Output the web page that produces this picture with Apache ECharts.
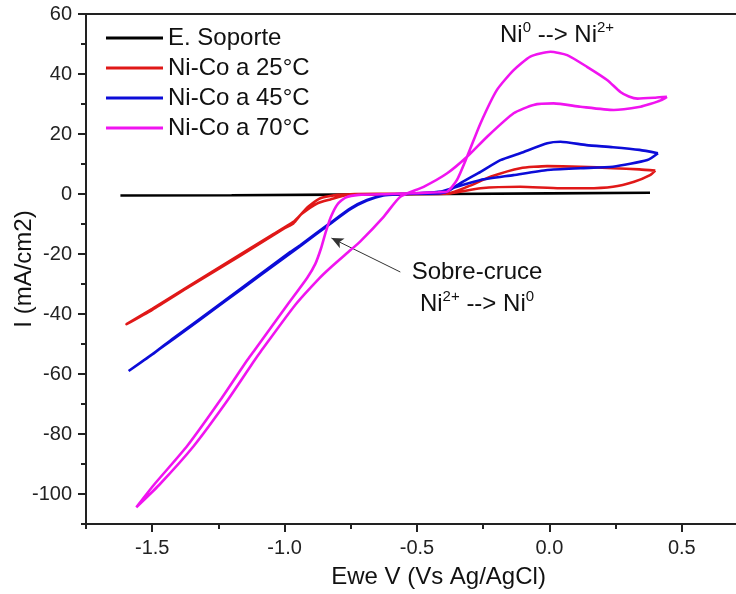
<!DOCTYPE html>
<html>
<head>
<meta charset="utf-8">
<script src="https://cdn.jsdelivr.net/npm/echarts/dist/echarts.min.js"></script>
<style>
html,body{margin:0;padding:0;background:#fff;}
#chart{width:736px;height:594px;}
</style>
</head>
<body>
<div id="chart"></div>
<script>
// ---- data (potential V vs Ag/AgCl, current mA/cm2) ----
const seriesNames = ['E. Soporte', 'Ni-Co a 25°C', 'Ni-Co a 45°C', 'Ni-Co a 70°C'];

const soporte = [[-1.62,-0.5],[-1.2,-0.4],[-0.8,-0.2],[-0.4,0.0],[0.0,0.2],[0.38,0.4]];

const nico25 = [
[0.40,7.8],[0.38,6.3],[0.32,4.1],[0.24,2.4],[0.14,1.9],[0.04,1.9],[-0.11,2.4],[-0.26,1.9],[-0.374,0.2],[-0.5,0.0],[-0.65,-0.1],[-0.763,-0.3],[-0.827,-1.8],[-0.876,-3.1],[-0.935,-6.6],[-0.967,-9.3],[-1.05,-13.8],[-1.17,-20.3],[-1.36,-30.6],[-1.5,-38.3],[-1.597,-43.4],
[-1.5,-38.6],[-1.36,-30.9],[-1.17,-20.7],[-1.0,-11.4],[-0.967,-9.8],[-0.94,-7.0],[-0.91,-4.2],[-0.865,-1.4],[-0.80,-0.3],[-0.65,0.1],[-0.5,0.1],[-0.385,0.2],[-0.31,2.4],[-0.22,5.8],[-0.11,8.6],[-0.008,9.3],[0.117,9.1],[0.24,8.6],[0.34,8.2],[0.40,7.8]];

const nico45 = [
[0.41,13.6],[0.37,11.3],[0.24,9.1],[0.117,8.6],[-0.008,8.0],[-0.136,6.3],[-0.26,4.7],[-0.35,2.4],[-0.41,0.8],[-0.5,0.2],[-0.56,-0.1],[-0.627,-0.5],[-0.689,-2.2],[-0.75,-5.0],[-0.827,-9.9],[-0.94,-17.3],[-1.09,-27.0],[-1.23,-36.1],[-1.419,-48.3],[-1.589,-59.0],
[-1.5,-53.5],[-1.419,-48.0],[-1.23,-35.8],[-1.09,-26.6],[-0.978,-19.3],[-0.94,-17.0],[-0.827,-9.6],[-0.75,-4.7],[-0.689,-2.0],[-0.627,-0.4],[-0.56,0.0],[-0.48,0.1],[-0.41,0.3],[-0.385,0.8],[-0.336,3.6],[-0.26,7.4],[-0.185,11.3],[-0.11,13.6],[-0.008,16.9],[0.042,17.4],[0.14,16.3],[0.24,15.6],[0.34,14.7],[0.41,13.6]];

const nico70 = [
[0.444,32.4],[0.42,31.2],[0.38,30.0],[0.344,29.1],[0.243,28.0],[0.117,29.1],[0.016,30.2],[-0.06,29.7],[-0.135,26.9],[-0.235,19.1],[-0.311,12.4],[-0.386,6.9],[-0.475,2.4],[-0.563,-0.9],[-0.626,-7.6],[-0.714,-15.8],[-0.751,-18.7],[-0.826,-24.5],[-0.87,-28.2],[-0.96,-37.0],[-1.09,-52.5],[-1.114,-55.5],[-1.214,-68.6],[-1.343,-84.0],[-1.474,-97.0],[-1.56,-104.4],
[-1.494,-97.0],[-1.368,-84.0],[-1.242,-68.6],[-1.142,-55.5],[-1.117,-52.5],[-0.99,-37.0],[-0.915,-28.0],[-0.884,-23.3],[-0.862,-18.0],[-0.845,-12.8],[-0.825,-7.6],[-0.80,-3.4],[-0.77,-1.2],[-0.72,-0.3],[-0.6,0.0],[-0.5,0.3],[-0.42,0.6],[-0.386,0.8],[-0.349,4.7],[-0.311,12.4],[-0.26,23.6],[-0.198,34.7],[-0.135,41.3],[-0.072,45.8],[0.004,47.4],[0.067,46.3],[0.142,42.4],[0.218,38.0],[0.268,34.0],[0.30,32.5],[0.333,31.8],[0.40,32.1],[0.444,32.4]];

// ticks
const xMajorTicks = [-1.5, -1.0, -0.5, 0.0, 0.5];
const xMinorTicks = [-1.75, -1.25, -0.75, -0.25, 0.25, 0.75];
const yMajorTicks = [-100, -80, -60, -40, -20, 0, 20, 40, 60];
const yMinorTicks = [-110, -90, -70, -50, -30, -10, 10, 30, 50];

// annotation arrow (data coords: tail, head)
const arrowTail = [-0.563, -26];
const arrowHead = [-0.823, -14.7];

const colors = ['#000000', '#e01818', '#0c0cd8', '#f014f0'];
const FONT = '"Liberation Sans", Arial, sans-serif';
const AX = '#222222';

const chart = echarts.init(document.getElementById('chart'), null, {renderer: 'canvas'});

const mkSeries = (name, data, i, extra) => Object.assign({
  name: name, type: 'line', data: data, showSymbol: false, symbol: 'none',
  smooth: 0.2, xAxisIndex: 0, yAxisIndex: 0,
  lineStyle: {color: colors[i], width: 2.6}, itemStyle: {color: colors[i]},
  z: 2 + i, clip: false
}, extra || {});

const option = {
  animation: false,
  backgroundColor: '#ffffff',
  textStyle: {fontFamily: FONT},
  grid: {left: 86, top: 14, width: 662, height: 510, containLabel: false, outerBoundsMode: 'none',
         show: true, borderColor: AX, borderWidth: 2, backgroundColor: 'transparent'},
  legend: {
    orient: 'vertical', left: 101, top: 21, itemGap: 6,
    icon: 'rect', itemWidth: 57, itemHeight: 3,
    textStyle: {fontSize: 24, color: '#111', fontFamily: FONT},
    data: seriesNames
  },
  xAxis: [{
    type: 'value', min: -1.75, max: 0.75, position: 'bottom',
    axisLine: {show: true, onZero: false, lineStyle: {color: AX, width: 2}},
    axisTick: {show: true, inside: false, length: 8, customValues: xMajorTicks, lineStyle: {color: AX, width: 2}},
    axisLabel: {show: true, customValues: xMajorTicks, formatter: v => v.toFixed(1), fontSize: 20, margin: 14, color: '#222', fontFamily: FONT},
    splitLine: {show: false},
    name: 'Ewe V (Vs Ag/AgCl)', nameLocation: 'middle', nameGap: 41, nameMoveOverlap: false,
    nameTextStyle: {fontSize: 24, color: '#111', fontFamily: FONT, padding: [0, 0, 0, 43]}
  }, {
    type: 'value', min: -1.75, max: 0.75, position: 'bottom',
    axisLine: {show: false, onZero: false},
    axisTick: {show: true, inside: false, length: 5, customValues: xMinorTicks, lineStyle: {color: AX, width: 2}},
    axisLabel: {show: false}, splitLine: {show: false}
  }],
  yAxis: [{
    type: 'value', min: -110, max: 60, position: 'left',
    axisLine: {show: true, onZero: false, lineStyle: {color: AX, width: 2}},
    axisTick: {show: true, inside: false, length: 8, customValues: yMajorTicks, lineStyle: {color: AX, width: 2}},
    axisLabel: {show: true, customValues: yMajorTicks, fontSize: 20, margin: 14, color: '#222', fontFamily: FONT},
    splitLine: {show: false},
    name: 'I (mA/cm2)', nameLocation: 'middle', nameGap: 50, nameMoveOverlap: false,
    nameTextStyle: {fontSize: 24, color: '#111', fontFamily: FONT}
  }, {
    type: 'value', min: -110, max: 60, position: 'left',
    axisLine: {show: false, onZero: false},
    axisTick: {show: true, inside: false, length: 5, customValues: yMinorTicks, lineStyle: {color: AX, width: 2}},
    axisLabel: {show: false}, splitLine: {show: false}
  }],
  series: [
    mkSeries(seriesNames[0], soporte, 0, {smooth: false}),
    mkSeries(seriesNames[1], nico25, 1),
    mkSeries(seriesNames[2], nico45, 2),
    mkSeries(seriesNames[3], nico70, 3, {
      markLine: {
        silent: true, animation: false,
        symbol: ['none', 'arrow'], symbolSize: [8, 12],
        label: {show: false},
        lineStyle: {color: '#333', width: 1, type: 'solid'},
        data: [[{coord: arrowTail, symbol: 'none'}, {coord: arrowHead, symbol: 'arrow'}]]
      }
    })
  ],
  graphic: [
    {type: 'text', left: 500, top: 20, z: 100, style: {
      text: '{n|Ni}{s|0}{n| --> Ni}{s|2+}',
      rich: {n: {fontSize: 24, lineHeight: 30, fill: '#111', fontFamily: FONT},
             s: {fontSize: 15, lineHeight: 15, verticalAlign: 'top', fill: '#111', fontFamily: FONT}}
    }},
    {type: 'text', z: 100, style: {
      x: 477, y: 272.5, text: 'Sobre-cruce', align: 'center', verticalAlign: 'middle',
      fontSize: 24, fill: '#111', fontFamily: FONT
    }},
    {type: 'text', z: 100, style: {
      x: 477, y: 304, align: 'center', verticalAlign: 'middle',
      text: '{n|Ni}{s|2+}{n| --> Ni}{s|0}',
      rich: {n: {fontSize: 24, lineHeight: 30, fill: '#111', fontFamily: FONT},
             s: {fontSize: 15, lineHeight: 15, verticalAlign: 'top', fill: '#111', fontFamily: FONT}}
    }}
  ]
};
chart.setOption(option);
</script>
</body>
</html>
